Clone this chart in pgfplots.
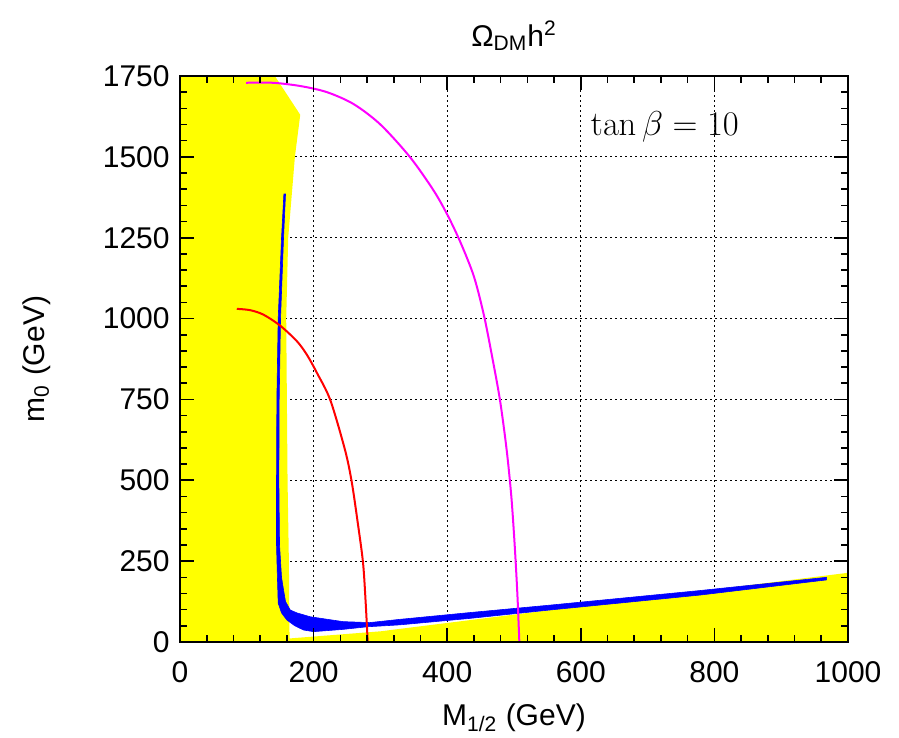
\documentclass[border=0pt]{standalone}
\usepackage[no-math]{fontspec}
\setmainfont{Liberation Sans}
\usepackage{pgfplots}
\pgfplotsset{compat=1.18}
\definecolor{yel}{RGB}{255,255,0}
\definecolor{blu}{RGB}{0,0,255}
\definecolor{mag}{RGB}{255,0,255}
\definecolor{rd}{RGB}{255,0,0}
\begin{document}
\fontsize{15}{18}\selectfont
\begin{tikzpicture}
\begin{axis}[
  scale only axis, width=334pt, height=283pt,
  xmin=0, xmax=1000, ymin=0, ymax=1750,
  xtick={0,200,...,1000}, ytick={0,250,...,1750},
  minor x tick num=4, minor y tick num=4,
  tick align=inside, tick pos=both,
  major tick length=7pt, minor tick length=3.5pt,
  every tick/.style={black, line width=0.8pt},
  axis line style={line width=1pt},
  /pgf/number format/assume math mode=true,
  /pgf/number format/set thousands separator={},
  ticklabel style={font=\fontsize{15}{18}\selectfont},
  xticklabel style={yshift=-4.5pt},
  set layers, axis on top,
  grid=major,
  major grid style={black, line width=0.6pt, dash pattern=on 0.8pt off 1.7pt, /pgfplots/on layer=axis background},
  title={\fontsize{15}{18}\selectfont Ω\textsubscript{DM}h\textsuperscript{2}},
  title style={yshift=1.5pt},
  xlabel={\fontsize{15}{18}\selectfont M\textsubscript{1/2} (GeV)},
  xlabel style={yshift=-0.5pt},
  ylabel={\fontsize{15}{18}\selectfont m\textsubscript{0} (GeV)},
  ylabel style={yshift=16pt},
]
% allowed-region boundary (yellow)
\addplot[fill=yel, draw=none] coordinates {
(0,0) (0,1750) (142,1750) (180,1630) (172,1500) (162,1250) (159,1000) (160,750) (161,500) (163,250) (164,11) (300,33) (1000,214) (1000,0)} -- cycle;
% WMAP band (blue)
\addplot[fill=blu, draw=blu, line width=0.3pt] coordinates {
(155.5,1385) (152,1250) (147,1000) (145,750) (144.5,500) (144.5,300) (145.5,223) (147,120) (152,90) (160,68) (172,50) (185,37) (200,32) (244,39) (280,47) (329,53) (434,73) (554,99) (778,145) (968,192)
(968,200) (778,159) (554,114) (434,91) (329,70) (284,60) (244,63) (195,78) (175,90) (165,99) (158,125) (155,161) (152,200) (149,300) (148,500) (148.5,750) (150.5,1000) (155,1250) (158,1385)} -- cycle;
% red contour
\addplot[rd, line width=1pt, smooth, tension=0.5] coordinates {
(85,1030) (105,1026) (125,1012) (150,978) (175,930) (190,888) (205,832) (225,748) (247,594) (257,496) (266,370) (274,245) (278,120) (281,0)};
% magenta contour
\addplot[mag, line width=1pt, smooth, tension=0.5] coordinates {
(99,1729) (139,1729) (180,1719) (220,1700) (260,1663) (300,1600) (344,1500) (379,1398) (400,1322) (420,1235) (440,1130) (455,1010) (467,885) (479,748) (489,594) (496,450) (501,300) (505,150) (508,0)};
\node[anchor=west, inner sep=0pt, font=\fontsize{19}{22}\selectfont] at (axis cs:614,1592) {$\tan\beta = 10$};
\end{axis}
\pgfresetboundingbox
\path[use as bounding box] (-90pt,-48pt) rectangle (359.5pt,321pt);
\end{tikzpicture}
\end{document}
